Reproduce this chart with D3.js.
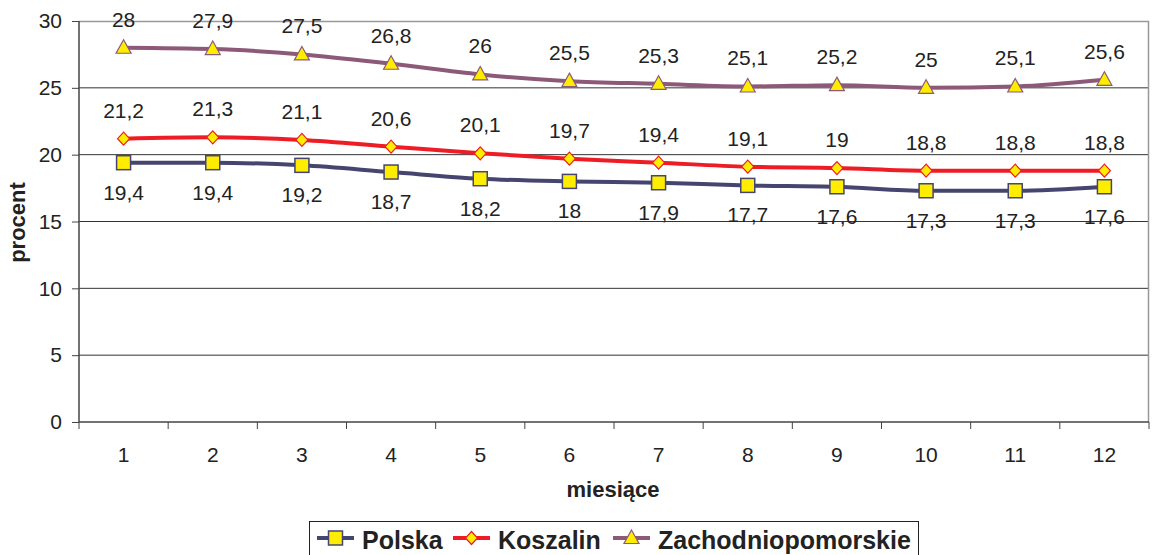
<!DOCTYPE html>
<html>
<head>
<meta charset="utf-8">
<script src="https://cdn.jsdelivr.net/npm/d3@7"></script>
<style>
  body { margin: 0; background: #fff; overflow: hidden; }
  svg { font-family: Arial, "Liberation Sans", sans-serif; }
</style>
</head>
<body>
<svg id="chart" width="1155" height="555"></svg>
<script>
var months = [1, 2, 3, 4, 5, 6, 7, 8, 9, 10, 11, 12];
var polska = [19.4, 19.4, 19.2, 18.7, 18.2, 18, 17.9, 17.7, 17.6, 17.3, 17.3, 17.6];
var koszalin = [21.2, 21.3, 21.1, 20.6, 20.1, 19.7, 19.4, 19.1, 19, 18.8, 18.8, 18.8];
var zachodnio = [28, 27.9, 27.5, 26.8, 26, 25.5, 25.3, 25.1, 25.2, 25, 25.1, 25.6];
var yTicks = [0, 5, 10, 15, 20, 25, 30];

var series = [
  {name: 'Polska', values: polska, color: '#45456f', marker: 'square', labelPos: 'below'},
  {name: 'Koszalin', values: koszalin, color: '#ee1c24', marker: 'diamond', labelPos: 'above'},
  {name: 'Zachodniopomorskie', values: zachodnio, color: '#8c5a78', marker: 'triangle', labelPos: 'above'}
];

var m = {left: 79, right: 6, top: 21, bottom: 133},
  w = 1155 - m.left - m.right,
  h = 555 - m.top - m.bottom;

var svg = d3.select('#chart');
var g = svg.append('g').attr('transform', 'translate(' + m.left + ',' + m.top + ')');

var x = d3.scaleBand().domain(months).range([0, w]);
var y = d3.scaleLinear().domain([0, 30]).range([h, 0]);

// gridlines
g.selectAll('.grid').data(yTicks.filter(function(d) { return d > 0 && d < 30; }))
  .enter().append('line')
  .attr('x1', 0).attr('x2', w)
  .attr('y1', function(d) { return y(d); }).attr('y2', function(d) { return y(d); })
  .attr('stroke', '#333').attr('stroke-width', 1);

// plot border top/right
g.append('path')
  .attr('d', 'M0,0.5H' + (w - 0.5) + 'V' + h)
  .attr('fill', 'none').attr('stroke', '#999').attr('stroke-width', 1.5);

// y axis
var yAxis = g.append('g').call(d3.axisLeft(y).tickValues(yTicks).tickSize(7).tickPadding(10));
yAxis.select('.domain').attr('stroke', '#444').attr('stroke-width', 1.5).attr('d', 'M0,0V' + h);
yAxis.selectAll('.tick line').attr('stroke', '#444');
yAxis.selectAll('text').attr('font-size', 21).attr('fill', '#222').attr('font-family', 'Arial, Liberation Sans, sans-serif');

// x axis
var xa = g.append('g').attr('transform', 'translate(0,' + h + ')');
xa.append('line').attr('x1', 0).attr('x2', w).attr('stroke', '#444').attr('stroke-width', 1.5);
xa.selectAll('.xt').data(d3.range(months.length + 1)).enter().append('line')
  .attr('x1', function(i) { return i * x.step(); }).attr('x2', function(i) { return i * x.step(); })
  .attr('y1', 0).attr('y2', 7).attr('stroke', '#444');
xa.selectAll('.xl').data(months).enter().append('text')
  .attr('x', function(d) { return x(d) + x.bandwidth() / 2; })
  .attr('y', 40).attr('text-anchor', 'middle')
  .attr('font-size', 21).attr('fill', '#222')
  .text(function(d) { return d; });

// axis titles
svg.append('text').attr('x', m.left + w / 2 - 1).attr('y', 497)
  .attr('text-anchor', 'middle').attr('font-size', 22).attr('font-weight', 'bold').attr('fill', '#222')
  .text('miesiące');
svg.append('text').attr('transform', 'translate(25,' + (m.top + h / 2 + 1) + ') rotate(-90)')
  .attr('text-anchor', 'middle').attr('font-size', 22).attr('font-weight', 'bold').attr('fill', '#222')
  .text('procent');

function cx(i) { return x(months[i]) + x.bandwidth() / 2; }

function drawMarker(sel, type, color) {
  if (type === 'square') {
    sel.append('rect').attr('x', -7).attr('y', -7).attr('width', 14).attr('height', 14)
      .attr('fill', '#ffed00').attr('stroke', color).attr('stroke-width', 1.5);
  } else if (type === 'diamond') {
    sel.append('path').attr('d', 'M0,-6.5L6,0L0,6.5L-6,0Z')
      .attr('fill', '#ffed00').attr('stroke', color).attr('stroke-width', 1.2);
  } else {
    sel.append('path').attr('d', 'M0,-8L7.5,5.5L-7.5,5.5Z')
      .attr('fill', '#ffed00').attr('stroke', color).attr('stroke-width', 1.2);
  }
}

var line = d3.line()
  .x(function(d, i) { return cx(i); })
  .y(function(d) { return y(d); })
  .curve(d3.curveMonotoneX);

series.forEach(function(s) {
  g.append('path').datum(s.values)
    .attr('d', line).attr('fill', 'none')
    .attr('stroke', s.color).attr('stroke-width', 4);
});

series.forEach(function(s) {
  s.values.forEach(function(v, i) {
    var mk = g.append('g').attr('transform', 'translate(' + cx(i) + ',' + y(v) + ')');
    drawMarker(mk, s.marker, s.color);
  });
  g.selectAll('.lbl-' + s.marker).data(s.values).enter().append('text')
    .attr('x', function(d, i) { return cx(i); })
    .attr('y', function(d) { return s.labelPos === 'above' ? y(d) - 21 : y(d) + 37; })
    .attr('text-anchor', 'middle').attr('font-size', 21).attr('fill', '#222')
    .text(function(d) { return String(d).replace('.', ','); });
});

// legend
var lg = svg.append('g').attr('transform', 'translate(309,521)');
lg.append('rect').attr('x', 0.5).attr('y', 0.5).attr('width', 609).attr('height', 45)
  .attr('fill', '#fff').attr('stroke', '#222').attr('stroke-width', 1);
var legendX = [8, 144, 304];
series.forEach(function(s, i) {
  var it = lg.append('g').attr('transform', 'translate(' + legendX[i] + ',17)');
  it.append('line').attr('x1', 0).attr('x2', 37).attr('stroke', s.color).attr('stroke-width', 4);
  var mk = it.append('g').attr('transform', 'translate(18.5,0)');
  drawMarker(mk, s.marker, s.color);
  it.append('text').attr('x', 45).attr('y', 11).attr('font-size', 25).attr('font-weight', 'bold')
    .attr('fill', '#222').text(s.name);
});
</script>
</body>
</html>
